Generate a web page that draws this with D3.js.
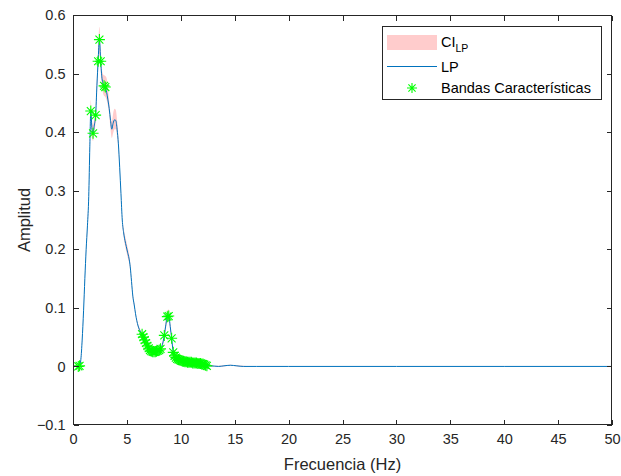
<!DOCTYPE html>
<html>
<head>
<meta charset="utf-8">
<script src="https://cdn.jsdelivr.net/npm/d3@7"></script>
<style>
  html, body { margin: 0; padding: 0; background: #fff; }
  svg { display: block; font-family: "Liberation Sans", Arial, sans-serif; }
</style>
</head>
<body>
<svg id="chart" width="621" height="476"></svg>
<script>
// Spectrum of the LP signal (Hz vs amplitude) with its confidence band
const freqHz = [0.00, 0.24, 0.49, 0.61, 0.73, 0.85, 0.98, 1.10, 1.22, 1.34, 1.46, 1.56, 1.65, 1.76, 1.86, 1.98, 2.10, 2.22, 2.33, 2.45,
  2.57, 2.69, 2.88, 3.00, 3.12, 3.24, 3.36, 3.48, 3.60, 3.72, 3.85, 3.97, 4.09, 4.21, 4.33, 4.45, 4.57, 4.70, 4.82, 4.94,
  5.06, 5.19, 5.31, 5.43, 5.55, 5.68, 5.80, 5.92, 6.04, 6.16, 6.29, 6.41, 6.53, 6.65, 6.77, 6.90, 7.02, 7.14, 7.26, 7.39,
  7.51, 7.63, 7.75, 7.87, 8.00, 8.12, 8.24, 8.47, 8.62, 8.75, 8.88, 9.02, 9.15, 9.30, 9.42, 9.54, 9.66, 9.78, 9.90, 10.02,
  10.14, 10.26, 10.38, 10.50, 10.62, 10.74, 10.86, 10.98, 11.10, 11.22, 11.34, 11.46, 11.58, 11.70, 11.82, 11.94, 12.06, 12.18, 12.30, 12.42,
  12.80, 13.50, 14.00, 14.60, 15.20, 15.80, 17.00, 20.00, 30.00, 40.00, 50.00];

const ampLP = [0.000, 0.000, 0.000, 0.001, 0.012, 0.045, 0.095, 0.150, 0.200, 0.240, 0.290, 0.375, 0.436, 0.405, 0.398, 0.412, 0.429, 0.480, 0.521, 0.558,
  0.521, 0.492, 0.479, 0.477, 0.468, 0.455, 0.440, 0.420, 0.405, 0.415, 0.421, 0.420, 0.405, 0.380, 0.340, 0.295, 0.250, 0.228, 0.215, 0.205,
  0.195, 0.185, 0.170, 0.145, 0.120, 0.105, 0.090, 0.078, 0.069, 0.063, 0.058, 0.055, 0.050, 0.045, 0.040, 0.035, 0.031, 0.028, 0.026, 0.025,
  0.025, 0.025, 0.026, 0.027, 0.028, 0.030, 0.034, 0.053, 0.072, 0.085, 0.086, 0.068, 0.048, 0.024, 0.018, 0.015, 0.013, 0.012, 0.011, 0.010,
  0.009, 0.009, 0.008, 0.008, 0.007, 0.007, 0.007, 0.007, 0.006, 0.006, 0.006, 0.006, 0.005, 0.005, 0.005, 0.004, 0.004, 0.003, 0.002, 0.001,
  0.001, 0.000, 0.001, 0.002, 0.001, 0.000, 0.000, 0.000, 0.000, 0.000, 0.000];

const ciLower = [0.000, -0.001, -0.001, -0.001, 0.008, 0.040, 0.089, 0.143, 0.193, 0.232, 0.280, 0.362, 0.420, 0.390, 0.385, 0.400, 0.418, 0.468, 0.505, 0.535,
  0.505, 0.478, 0.462, 0.460, 0.455, 0.445, 0.430, 0.405, 0.390, 0.398, 0.405, 0.405, 0.393, 0.372, 0.334, 0.290, 0.245, 0.222, 0.207, 0.197,
  0.187, 0.178, 0.164, 0.140, 0.116, 0.101, 0.087, 0.075, 0.066, 0.060, 0.055, 0.052, 0.047, 0.042, 0.037, 0.032, 0.029, 0.026, 0.024, 0.023,
  0.023, 0.023, 0.024, 0.025, 0.026, 0.028, 0.031, 0.048, 0.065, 0.076, 0.077, 0.062, 0.044, 0.022, 0.016, 0.013, 0.011, 0.010, 0.009, 0.008,
  0.007, 0.007, 0.006, 0.006, 0.005, 0.005, 0.005, 0.005, 0.004, 0.004, 0.004, 0.004, 0.003, 0.003, 0.003, 0.002, 0.002, 0.001, 0.001, 0.000,
  0.000, -0.001, 0.000, 0.001, 0.000, -0.001, 0.000, 0.000, 0.000, 0.000, 0.000];

const ciUpper = [0.000, 0.001, 0.001, 0.003, 0.016, 0.050, 0.101, 0.157, 0.207, 0.248, 0.300, 0.390, 0.455, 0.420, 0.412, 0.425, 0.442, 0.495, 0.540, 0.580,
  0.540, 0.505, 0.497, 0.496, 0.492, 0.475, 0.452, 0.432, 0.418, 0.432, 0.440, 0.438, 0.420, 0.390, 0.346, 0.300, 0.255, 0.236, 0.224, 0.214,
  0.204, 0.193, 0.176, 0.150, 0.124, 0.109, 0.093, 0.081, 0.072, 0.066, 0.061, 0.058, 0.053, 0.048, 0.043, 0.038, 0.034, 0.031, 0.028, 0.027,
  0.027, 0.027, 0.028, 0.029, 0.030, 0.032, 0.037, 0.058, 0.080, 0.096, 0.097, 0.075, 0.052, 0.027, 0.020, 0.017, 0.015, 0.014, 0.013, 0.012,
  0.011, 0.011, 0.010, 0.010, 0.009, 0.009, 0.009, 0.009, 0.008, 0.008, 0.008, 0.008, 0.007, 0.007, 0.007, 0.006, 0.006, 0.005, 0.004, 0.003,
  0.002, 0.001, 0.002, 0.003, 0.002, 0.001, 0.000, 0.000, 0.000, 0.000, 0.000];

// Characteristic bands (marked with asterisks)
const bandFreqHz = [0.49, 0.61, 1.65, 1.86, 2.10, 2.33, 2.45, 2.57, 2.88, 3.00,
  6.41, 6.53, 6.65, 6.77, 6.90, 7.02, 7.14, 7.26, 7.39, 7.51, 7.63, 7.75, 7.87, 8.00, 8.12,
  8.47, 8.75, 8.88, 9.15, 9.30, 9.42, 9.54, 9.66, 9.78, 9.90, 10.02, 10.14, 10.26, 10.38, 10.50,
  10.62, 10.74, 10.86, 10.98, 11.10, 11.22, 11.34, 11.46, 11.58, 11.70, 11.82, 11.94, 12.06, 12.18, 12.30, 12.42];
const bandAmp = [0.000, 0.001, 0.436, 0.398, 0.429, 0.521, 0.558, 0.521, 0.479, 0.477,
  0.055, 0.050, 0.045, 0.040, 0.035, 0.031, 0.028, 0.026, 0.025, 0.025, 0.025, 0.026, 0.027, 0.028, 0.030,
  0.053, 0.085, 0.086, 0.048, 0.024, 0.018, 0.015, 0.013, 0.012, 0.011, 0.010, 0.009, 0.009, 0.008, 0.008,
  0.007, 0.007, 0.007, 0.007, 0.006, 0.006, 0.006, 0.006, 0.005, 0.005, 0.005, 0.004, 0.004, 0.003, 0.002, 0.001];

const xTicks = [0, 5, 10, 15, 20, 25, 30, 35, 40, 45, 50];
const yTicks = [-0.1, 0, 0.1, 0.2, 0.3, 0.4, 0.5, 0.6];
const legendLabels = ["CI", "LP", "Bandas Características"];

const colors = { ci: "#ffcccc", line: "#0072bd", band: "#00ff00", axis: "#262626" };

const svg = d3.select("#chart");
const plot = { left: 73, right: 612, top: 15, bottom: 425 };

const x = d3.scaleLinear().domain([0, 50]).range([plot.left, plot.right]);
const y = d3.scaleLinear().domain([-0.1, 0.6]).range([plot.bottom, plot.top]);

const series = freqHz.map((f, i) => ({ f, a: ampLP[i], lo: ciLower[i], hi: ciUpper[i] }));

svg.append("clipPath").attr("id", "plotclip").append("rect")
  .attr("x", plot.left).attr("y", plot.top)
  .attr("width", plot.right - plot.left).attr("height", plot.bottom - plot.top);

const g = svg.append("g").attr("clip-path", "url(#plotclip)");

// confidence band
g.append("path")
  .datum(series)
  .attr("fill", colors.ci)
  .attr("d", d3.area().x(d => x(d.f)).y0(d => y(d.lo)).y1(d => y(d.hi)).curve(d3.curveMonotoneX));

// LP spectrum
g.append("path")
  .datum(series)
  .attr("fill", "none")
  .attr("stroke", colors.line)
  .attr("stroke-width", 1)
  .attr("d", d3.line().x(d => x(d.f)).y(d => y(d.a)).curve(d3.curveMonotoneX));

// asterisk marker shape
function asterisk(r) {
  const d = r * 0.72;
  return `M${-r},0L${r},0M0,${-r}L0,${r}M${-d},${-d}L${d},${d}M${-d},${d}L${d},${-d}`;
}

g.append("g").selectAll("path")
  .data(bandFreqHz.map((f, i) => ({ f, a: bandAmp[i] })))
  .join("path")
  .attr("transform", d => `translate(${x(d.f)},${y(d.a)})`)
  .attr("d", asterisk(5.5))
  .attr("fill", "none")
  .attr("stroke", colors.band)
  .attr("stroke-width", 1.1);

// axes box with inward ticks on all four sides
const tickLen = 5;
const axes = svg.append("g");

axes.append("rect")
  .attr("x", plot.left + 0.5).attr("y", plot.top + 0.5)
  .attr("width", plot.right - plot.left - 1).attr("height", plot.bottom - plot.top - 1)
  .attr("fill", "none").attr("stroke", colors.axis).attr("stroke-width", 1)
  .attr("shape-rendering", "crispEdges");

const xAxisB = d3.axisBottom(x).tickValues(xTicks).tickSize(-tickLen).tickPadding(9).tickFormat(d3.format("d"));
const xAxisT = d3.axisTop(x).tickValues(xTicks).tickSize(-tickLen).tickFormat("");
const yAxisL = d3.axisLeft(y).tickValues(yTicks).tickSize(-tickLen).tickPadding(8).tickFormat(d => d === 0 ? "0" : d3.format(".1f")(d));
const yAxisR = d3.axisRight(y).tickValues(yTicks).tickSize(-tickLen).tickFormat("");

function styleAxis(sel) {
  sel.select(".domain").remove();
  sel.selectAll(".tick line").attr("stroke", colors.axis).attr("shape-rendering", "crispEdges");
  sel.selectAll(".tick text").attr("fill", colors.axis).attr("font-size", "14.5px")
    .attr("font-family", "'Liberation Sans', Arial, sans-serif");
}

axes.append("g").attr("transform", `translate(0,${plot.bottom - 0.5})`).call(xAxisB).call(styleAxis);
axes.append("g").attr("transform", `translate(0,${plot.top + 0.5})`).call(xAxisT).call(styleAxis);
axes.append("g").attr("transform", `translate(${plot.left + 0.5},0)`).call(yAxisL).call(styleAxis);
axes.append("g").attr("transform", `translate(${plot.right - 0.5},0)`).call(yAxisR).call(styleAxis);

// axis titles
svg.append("text")
  .attr("x", (plot.left + plot.right) / 2).attr("y", 470)
  .attr("text-anchor", "middle").attr("font-size", "16.5px").attr("fill", colors.axis)
  .text("Frecuencia (Hz)");

svg.append("text")
  .attr("transform", `translate(30,${(plot.top + plot.bottom) / 2}) rotate(-90)`)
  .attr("text-anchor", "middle").attr("font-size", "16.5px").attr("fill", colors.axis)
  .text("Amplitud");

// legend
const lg = svg.append("g").attr("transform", "translate(382,26)");
lg.append("rect").attr("x", 0.5).attr("y", 0.5).attr("width", 219).attr("height", 73)
  .attr("fill", "#fff").attr("stroke", colors.axis).attr("stroke-width", 1)
  .attr("shape-rendering", "crispEdges");

lg.append("rect").attr("x", 5).attr("y", 9).attr("width", 50).attr("height", 15).attr("fill", colors.ci);
const ciText = lg.append("text").attr("x", 59).attr("y", 21).attr("font-size", "14.5px").attr("fill", "#000");
ciText.append("tspan").text(legendLabels[0]);
ciText.append("tspan").attr("font-size", "10.5px").attr("dy", 5).text("LP");

lg.append("line").attr("x1", 5).attr("x2", 55).attr("y1", 40.5).attr("y2", 40.5)
  .attr("stroke", colors.line).attr("stroke-width", 1);
lg.append("text").attr("x", 59).attr("y", 46).attr("font-size", "14.5px").attr("fill", "#000").text(legendLabels[1]);

lg.append("path").attr("transform", "translate(30,62)").attr("d", asterisk(5))
  .attr("fill", "none").attr("stroke", colors.band).attr("stroke-width", 1.1);
lg.append("text").attr("x", 59).attr("y", 67).attr("font-size", "14.5px").attr("fill", "#000").text(legendLabels[2]);
</script>
</body>
</html>
